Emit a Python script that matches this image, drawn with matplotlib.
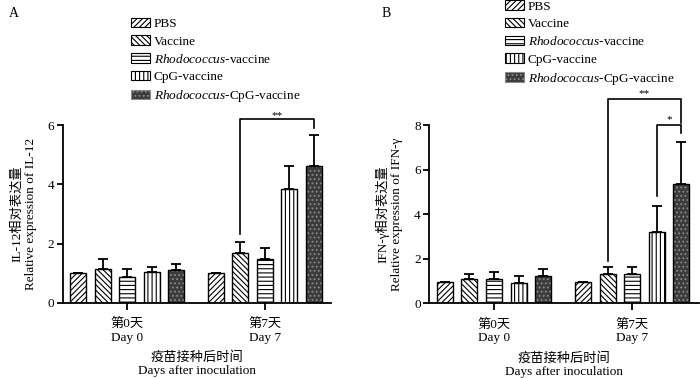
import numpy as np
import matplotlib
matplotlib.use('Agg')
import matplotlib.pyplot as plt
from matplotlib.patches import Patch

plt.rcParams['font.family'] = ['Liberation Serif', 'Noto Sans CJK SC']
plt.rcParams['mathtext.fontset'] = 'custom'
plt.rcParams['mathtext.rm'] = 'Liberation Serif'
plt.rcParams['mathtext.it'] = 'Liberation Serif:italic'
plt.rcParams['hatch.linewidth'] = 0.8
plt.rcParams['font.size'] = 9.5

## datos
groups = ['PBS', 'Vaccine', '$\\it{Rhodococcus}$-vaccine', 'CpG-vaccine', '$\\it{Rhodococcus}$-CpG-vaccine']
days = ['第0天\nDay 0', '第7天\nDay 7']
il12 = [[1.0, 1.13, 0.88, 1.05, 1.10],
        [1.0, 1.68, 1.48, 3.83, 4.63]]
il12_err = [[0.0, 0.36, 0.25, 0.16, 0.21],
            [0.0, 0.38, 0.37, 0.80, 1.04]]
ifn = [[0.97, 1.07, 1.10, 0.92, 1.22],
       [0.97, 1.31, 1.30, 3.19, 5.34]]
ifn_err = [[0.0, 0.24, 0.32, 0.29, 0.31],
           [0.0, 0.33, 0.31, 1.16, 1.92]]

hatches = ['//////', '\\\\\\\\\\\\', '----', '||||', '....']
faces = ['white', 'white', 'white', 'white', '#3c3c3c']
hcols = ['black', 'black', 'black', 'black', '#8a8a8a']

step = 0.178
width = 0.116
offs = (np.arange(5) - 2) * step

def panel(ax, vals, errs, ylab, ymax):
	for g in range(5):
		x = np.arange(2) + offs[g]
		v = [vals[0][g], vals[1][g]]
		e = [errs[0][g], errs[1][g]]
		ax.bar(x, v, width, color=faces[g], hatch=hatches[g], edgecolor=hcols[g], linewidth=0, zorder=2)
		ax.bar(x, v, width, fill=False, edgecolor='black', linewidth=1.0, zorder=3)
		ax.errorbar(x, v, yerr=[np.zeros(2), e], fmt='none', ecolor='black', elinewidth=1.3, capsize=3.5, capthick=1.3, zorder=1)
	ax.set_xlim(-0.47, 1.48)
	ax.set_ylim(0, ymax)
	ax.set_xticks([0, 1])
	ax.set_xticklabels(days, linespacing=1.2)
	ax.set_yticks(np.arange(0, ymax + 1, 2))
	ax.spines['top'].set_visible(False)
	ax.spines['right'].set_visible(False)
	ax.spines['left'].set_linewidth(1.3)
	ax.spines['bottom'].set_linewidth(1.3)
	ax.tick_params(width=1.3, length=4, pad=2)
	ax.tick_params(axis='x', length=5, pad=6)
	ax.set_ylabel(ylab, linespacing=1.2, labelpad=8)
	ax.set_xlabel('疫苗接种后时间\nDays after inoculation', linespacing=1.1, labelpad=5.5)

def bracket(ax, x1, y1, x2, y2, ytop, txt, ty):
	ax.plot([x1, x1, x2, x2], [y1, ytop, ytop, y2], color='black', lw=1.2, clip_on=False, zorder=4)
	ax.text((x1 + x2) / 2, ty, txt, ha='center', va='center', fontsize=8, clip_on=False)

fig = plt.figure(figsize=(7, 3.78), dpi=100)
axA = fig.add_axes([0.0896, 0.199, 0.383, 0.470])
axB = fig.add_axes([0.613, 0.198, 0.385, 0.471])

panel(axA, il12, il12_err, 'IL-12相对表达量\nRelative expression of IL-12', 6)
panel(axB, ifn, ifn_err, 'IFN-γ相对表达量\nRelative expression of IFN-γ', 8)

bracket(axA, 1 + offs[1], 2.32, 1 + offs[4], 5.9, 6.19, '**', 6.33)
bracket(axB, 1 + offs[3], 4.83, 1 + offs[4], 7.63, 8.0, '*', 8.25)
bracket(axB, 1 + offs[1], 1.89, 1 + offs[4], 8.1, 9.18, '**', 9.42)

handles = [Patch(facecolor=faces[g], hatch=hatches[g], edgecolor=hcols[g] if g == 4 else 'black', linewidth=0.8) for g in range(5)]
legA = fig.legend(handles, groups, loc='upper left', bbox_to_anchor=(0.18, 0.967), frameon=False,
	handlelength=1.4, handleheight=0.75, handletextpad=0.3, labelspacing=0.38, borderaxespad=0)
legB = fig.legend(handles, groups, loc='upper left', bbox_to_anchor=(0.714, 1.013), frameon=False,
	handlelength=1.4, handleheight=0.75, handletextpad=0.3, labelspacing=0.38, borderaxespad=0)

fig.text(0.012, 0.955, 'A', fontsize=10)
fig.text(0.545, 0.955, 'B', fontsize=10)

fig.savefig('out.png', dpi=100)
